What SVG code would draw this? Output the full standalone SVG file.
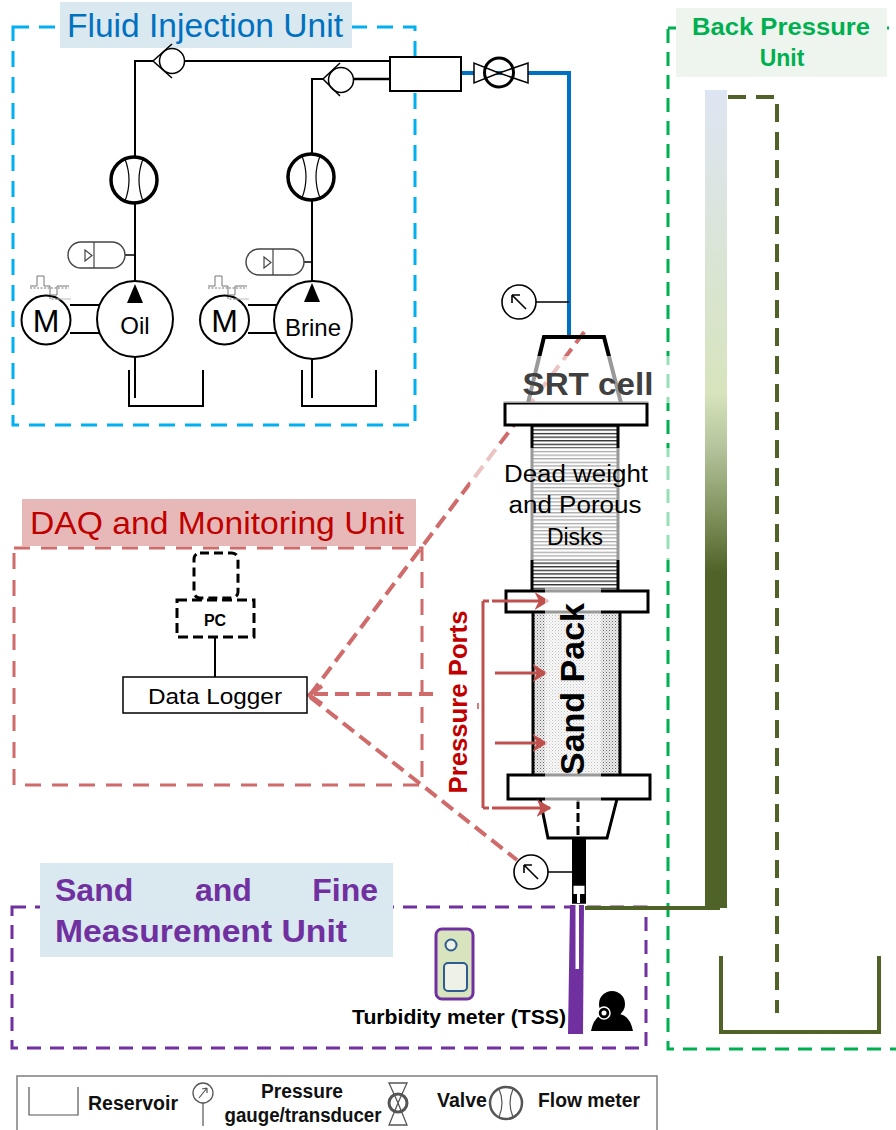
<svg xmlns="http://www.w3.org/2000/svg" width="896" height="1130" viewBox="0 0 896 1130">
  <defs>
    <style>
      .pipe{stroke:#000;stroke-width:2;fill:none}
      .thin{stroke:#000;stroke-width:1.5;fill:none}
      .fm{stroke:#000;stroke-width:3.5;fill:#fff}
      .fma{stroke:#000;stroke-width:1.2;fill:none}
      .txt{font-family:"Liberation Sans",Arial,sans-serif}
      .bold{font-weight:bold}
      .flange{fill:#fff;stroke:#000;stroke-width:3}
      .red{stroke:#C0504D;stroke-width:3;fill:none}
      .daq{stroke:#D06B6B;stroke-width:4;stroke-dasharray:14 7;fill:none}
      .haze{fill:#fff;fill-opacity:0.6}
    </style>
    <pattern id="hatch" patternUnits="userSpaceOnUse" width="10" height="3.6">
      <rect width="10" height="3.6" fill="#fff"/>
      <line x1="0" y1="1.6" x2="10" y2="1.6" stroke="#000" stroke-width="1.1"/>
    </pattern>
    <pattern id="stipple" patternUnits="userSpaceOnUse" width="3" height="3">
      <rect width="3" height="3" fill="#eeeeee"/>
      <rect x="0" y="0" width="1" height="1" fill="#666"/>
      <rect x="1.5" y="1.5" width="1" height="1" fill="#999"/>
    </pattern>
    <linearGradient id="bpcol" x1="0" y1="90" x2="0" y2="908" gradientUnits="userSpaceOnUse">
      <stop offset="0" stop-color="#DEE5F3"/>
      <stop offset="0.37" stop-color="#D7E4BD"/>
      <stop offset="0.44" stop-color="#B3C29A"/>
      <stop offset="0.52" stop-color="#7F925C"/>
      <stop offset="0.59" stop-color="#4F6228"/>
      <stop offset="1" stop-color="#4F6228"/>
    </linearGradient>
    <marker id="rarrow" markerWidth="6" markerHeight="6" refX="4.5" refY="3" orient="auto" markerUnits="strokeWidth">
      <path d="M0,0 L5,3 L0,6 L1.5,3 Z" fill="#C0504D"/>
    </marker>
    <g id="gauge">
      <circle r="17" fill="#fff" stroke="#000" stroke-width="1.6"/>
      <path d="M7,7 L-7,-7 M-7,-7 L-7,1 M-7,-7 L1,-7" stroke="#000" stroke-width="1.6" fill="none"/>
    </g>
    <g id="flowmeter">
      <circle r="23" class="fm"/>
      <path d="M-9,-21 Q-1,0 -9,21 M9,-21 Q1,0 9,21" class="fma"/>
    </g>
  </defs>

  <rect width="896" height="1130" fill="#fff"/>

  <!-- unit frames -->
  <g id="frames">
    <rect x="13" y="27" width="402" height="398" fill="none" stroke="#00B0F0" stroke-width="3" stroke-dasharray="16 10"/>
    <rect x="14" y="548" width="408" height="237" fill="none" stroke="#D06B6B" stroke-width="3" stroke-dasharray="16 11"/>
    <rect x="12" y="907" width="634" height="141" fill="none" stroke="#7030A0" stroke-width="3" stroke-dasharray="14 9"/>
    <rect x="668" y="28" width="240" height="1021" fill="none" stroke="#00B050" stroke-width="3" stroke-dasharray="14 9"/>
  </g>

  <!-- unit titles -->
  <g id="title-injection">
    <rect x="60" y="2" width="292" height="46" fill="#DAE8EF"/>
    <text x="67" y="37" class="txt" font-size="33" fill="#0070C0" textLength="276" lengthAdjust="spacingAndGlyphs">Fluid Injection Unit</text>
  </g>
  <g id="title-daq">
    <rect x="22" y="499" width="394" height="47" fill="#E6B9B8"/>
    <text x="30" y="534" class="txt" font-size="32" fill="#C00000" textLength="374" lengthAdjust="spacingAndGlyphs">DAQ and Monitoring Unit</text>
  </g>
  <g id="title-sand">
    <rect x="40" y="863" width="353" height="94" fill="#DAE8EF"/>
    <text x="55" y="901" class="txt bold" font-size="32" fill="#7030A0">Sand</text>
    <text x="195" y="901" class="txt bold" font-size="32" fill="#7030A0">and</text>
    <text x="378" y="901" class="txt bold" font-size="32" fill="#7030A0" text-anchor="end">Fine</text>
    <text x="55" y="942" class="txt bold" font-size="32" fill="#7030A0" textLength="292" lengthAdjust="spacingAndGlyphs">Measurement Unit</text>
  </g>
  <g id="title-backpressure">
    <rect x="676" y="8" width="211" height="69" fill="#EEF5EE"/>
    <text x="781" y="35" class="txt bold" font-size="23" fill="#00B050" text-anchor="middle" textLength="178" lengthAdjust="spacingAndGlyphs">Back Pressure</text>
    <text x="782" y="66" class="txt bold" font-size="23" fill="#00B050" text-anchor="middle">Unit</text>
  </g>

  <!-- connectors: pipes, signal lines -->
  <g id="connectors">
    <!-- oil line -->
    <path d="M135,283 V203 M135,157 V61 H153 M185,61 H390" class="pipe"/>
    <!-- brine line -->
    <path d="M312,281 V200 M312,154 V79 H323" class="pipe"/>
    <path d="M354,79 H390" stroke="#000" stroke-width="2.5"/>
    <!-- accumulator taps -->
    <path d="M125,255 H135 M304,262 H312" class="thin"/>
    <!-- motor couplings -->
    <path d="M70,305 H100 M70,333 H100 M248,305 H278 M248,333 H278" class="pipe"/>
    <!-- suction lines -->
    <path d="M135,357 V398 M312,359 V398" class="pipe"/>
    <!-- blue feed line -->
    <path d="M461,73 H569 V337" stroke="#0070C0" stroke-width="4" fill="none"/>
    <!-- gauge taps -->
    <path d="M536,302 H569 M548,872 H572" stroke="#000" stroke-width="1.5"/>
    <!-- PC to logger -->
    <path d="M215,638 V677" class="pipe"/>
    <!-- effluent to back pressure -->
    <path d="M585,908 H720" stroke="#4F6228" stroke-width="4"/>
    <!-- back pressure return -->
    <path d="M728,97 H777 V1013" stroke="#4F6228" stroke-width="4" fill="none" stroke-dasharray="18 10"/>
    <!-- DAQ signal lines -->
    <path d="M310,695 L585,331" class="daq"/>
    <path d="M433,694 H310" class="daq"/>
    <path d="M310,697 L517,860" class="daq"/>
    <path d="M322,686 L309,695 L322,704" stroke="#D06B6B" stroke-width="4" fill="none"/>
  </g>

  <!-- check valves -->
  <g id="check-valve-oil">
    <circle cx="172" cy="61" r="12.5" fill="#fff" stroke="#000" stroke-width="1.5"/>
    <path d="M172,44 L153,61 L172,78" class="thin"/>
  </g>
  <g id="check-valve-brine">
    <circle cx="341" cy="80" r="12.5" fill="#fff" stroke="#000" stroke-width="1.5"/>
    <path d="M340,63 L323,79 L340,96" class="thin"/>
  </g>
  <g id="mixer">
    <rect x="390" y="57" width="71" height="34" fill="#fff" stroke="#000" stroke-width="2"/>
  </g>
  <g id="valve">
    <path d="M474,63 L474,83 L499,73 Z M528,63 L528,83 L499,73 Z" fill="#fff" stroke="#000" stroke-width="1.5"/>
    <circle cx="499" cy="72.5" r="14.5" fill="none" stroke="#000" stroke-width="3"/>
  </g>

  <!-- flow meters -->
  <g id="flowmeter-oil"><use href="#flowmeter" x="134" y="180"/></g>
  <g id="flowmeter-brine"><use href="#flowmeter" x="311" y="177"/></g>

  <!-- accumulators -->
  <g id="accumulator-oil">
    <rect x="68" y="242" width="57" height="26" rx="13" fill="#fff" stroke="#444" stroke-width="1.4"/>
    <path d="M94,242 V268 M85,250 L92,255.5 L85,261 Z" stroke="#444" stroke-width="1.2" fill="none"/>
  </g>
  <g id="accumulator-brine">
    <rect x="246" y="249" width="58" height="26" rx="13" fill="#fff" stroke="#444" stroke-width="1.4"/>
    <path d="M273,249 V275 M264,257 L271,262.5 L264,268 Z" stroke="#444" stroke-width="1.2" fill="none"/>
  </g>

  <!-- pumps and motors -->
  <g id="pump-oil">
    <circle cx="135" cy="319" r="38" fill="#fff" stroke="#000" stroke-width="2"/>
    <path d="M135,284 L143,303 L127,303 Z" fill="#000"/>
    <text x="135" y="334" class="txt" font-size="24" text-anchor="middle">Oil</text>
  </g>
  <g id="motor-oil">
    <circle cx="46" cy="320" r="24.5" fill="#fff" stroke="#000" stroke-width="2"/>
    <text x="46" y="332" class="txt" font-size="32" text-anchor="middle">M</text>
    <path d="M30,286 H37 V276 H44 V286 H50 V295 H57 V286 H69" stroke="#777" stroke-width="1" fill="none"/>
    <path d="M30,288 H69 M50,297 V299 H57" stroke="#777" stroke-width="1" stroke-dasharray="2 1.5" fill="none"/>
    <path d="M57,299 H71" stroke="#bbb" stroke-width="1"/>
  </g>
  <g id="pump-brine">
    <circle cx="313" cy="320" r="39" fill="#fff" stroke="#000" stroke-width="2"/>
    <path d="M312,283 L320,302 L304,302 Z" fill="#000"/>
    <text x="313" y="336" class="txt" font-size="24" text-anchor="middle">Brine</text>
  </g>
  <g id="motor-brine">
    <circle cx="224.5" cy="320" r="24.5" fill="#fff" stroke="#000" stroke-width="2"/>
    <text x="224.5" y="332" class="txt" font-size="32" text-anchor="middle">M</text>
    <path d="M208,286 H215 V276 H222 V286 H228 V295 H235 V286 H247" stroke="#777" stroke-width="1" fill="none"/>
    <path d="M208,288 H247 M228,297 V299 H235" stroke="#777" stroke-width="1" stroke-dasharray="2 1.5" fill="none"/>
    <path d="M235,299 H249" stroke="#bbb" stroke-width="1"/>
  </g>

  <!-- reservoirs -->
  <g id="reservoir-oil"><path d="M129,370 V406 H203 V370" class="pipe"/></g>
  <g id="reservoir-brine"><path d="M302,370 V406 H376 V370" class="pipe"/></g>

  <!-- gauges -->
  <g id="gauge-inlet"><use href="#gauge" x="519" y="302"/></g>
  <g id="gauge-outlet"><use href="#gauge" x="531" y="872"/></g>

  <!-- SRT cell -->
  <g id="srt-cell">
    <path d="M528,403 L544,337 H604 L621,403" fill="none" stroke="#000" stroke-width="4" stroke-linejoin="miter"/>
    <rect x="532" y="425" width="86" height="166" fill="url(#hatch)"/>
    <path d="M532,425 V591 M618,425 V591" stroke="#000" stroke-width="3"/>
    <rect x="505" y="403" width="142" height="22" class="flange"/>
    <rect x="533" y="612" width="87" height="163" fill="url(#stipple)"/>
    <path d="M533,612 V775 M620,612 V775" stroke="#000" stroke-width="3"/>
    <rect x="506" y="591" width="142" height="21" class="flange"/>
    <rect x="508" y="775" width="142" height="24" class="flange"/>
    <path d="M540,799 L548,838 H607 L617,799" fill="none" stroke="#000" stroke-width="3"/>
    <path d="M578,800 V838" stroke="#000" stroke-width="3" stroke-dasharray="9 4"/>
    <!-- outlet -->
    <rect x="572" y="838" width="14" height="47" fill="#000"/>
    <rect x="572.75" y="885" width="12.5" height="18" fill="#fff" stroke="#000" stroke-width="1.5"/>
    <rect x="572" y="894" width="14" height="9" fill="#000"/>
    <rect x="577" y="894" width="3" height="9" fill="#fff"/>
  </g>

  <!-- pressure ports -->
  <g id="pressure-ports">
    <path d="M483,601 V808" class="red"/>
    <path d="M483,601 H497" class="red" stroke-dasharray="6 3"/>
    <path d="M497,601 H548" class="red" marker-end="url(#rarrow)"/>
    <path d="M495,673 H546" class="red" marker-end="url(#rarrow)"/>
    <path d="M495,743 H546" class="red" marker-end="url(#rarrow)"/>
    <path d="M483,808 H497" class="red" stroke-dasharray="6 3"/>
    <path d="M497,808 H550" class="red" marker-end="url(#rarrow)"/>
    <path d="M478,703 V709" stroke="#C0504D" stroke-width="1.5"/>
  </g>

  <!-- label hazes over the cell -->
  <rect x="497" y="356" width="180" height="47" class="haze"/>
  <rect x="470" y="448" width="210" height="112" class="haze"/>
  <rect x="545" y="588" width="56" height="214" class="haze"/>

  <g id="srt-labels">
    <text x="588" y="395" class="txt bold" font-size="32" fill="#404040" text-anchor="middle" textLength="131" lengthAdjust="spacingAndGlyphs">SRT cell</text>
    <text x="576" y="482" class="txt" font-size="23" text-anchor="middle" textLength="144" lengthAdjust="spacingAndGlyphs">Dead weight</text>
    <text x="575" y="513" class="txt" font-size="23" text-anchor="middle" textLength="133" lengthAdjust="spacingAndGlyphs">and Porous</text>
    <text x="575" y="545" class="txt" font-size="23" text-anchor="middle">Disks</text>
    <text transform="translate(572,689) rotate(-90)" y="12" class="txt bold" font-size="33" text-anchor="middle" textLength="172" lengthAdjust="spacingAndGlyphs">Sand Pack</text>
    <text transform="translate(458,702) rotate(-90)" y="9" class="txt bold" font-size="25" fill="#C00000" text-anchor="middle" textLength="183" lengthAdjust="spacingAndGlyphs">Pressure Ports</text>
  </g>

  <!-- back pressure column and tank -->
  <g id="back-pressure">
    <rect x="705" y="90" width="22" height="818" fill="url(#bpcol)"/>
    <path d="M721,956 V1032 H879 V956" stroke="#4F6228" stroke-width="4" fill="none"/>
  </g>

  <!-- DAQ -->
  <g id="pc">
    <rect x="194" y="553" width="44" height="45" rx="6" fill="none" stroke="#000" stroke-width="3" stroke-dasharray="9 5"/>
    <rect x="177" y="600" width="77" height="37" fill="#fff" stroke="#000" stroke-width="3" stroke-dasharray="10 5"/>
    <text x="215" y="626" class="txt bold" font-size="16" text-anchor="middle">PC</text>
  </g>
  <g id="data-logger">
    <rect x="123" y="677" width="184" height="36" fill="#fff" stroke="#000" stroke-width="1.5"/>
    <text x="215" y="704" class="txt" font-size="22" text-anchor="middle" textLength="134" lengthAdjust="spacingAndGlyphs">Data Logger</text>
  </g>

  <!-- sand and fines measurement -->
  <g id="effluent-tube">
    <path d="M570,905 H584 L583,1034 H568 Z" fill="#7030A0"/>
    <rect x="575.5" y="905" width="3.5" height="64" fill="#fff"/>
  </g>
  <g id="turbidity-meter">
    <rect x="436" y="929" width="37" height="70" rx="6" fill="#D7E4BD" stroke="#7030A0" stroke-width="3"/>
    <circle cx="451" cy="945" r="5.5" fill="#EEF2E6" stroke="#2F5C8F" stroke-width="2"/>
    <rect x="444" y="963" width="23" height="28" rx="4" fill="#EEF2E6" stroke="#2F5C8F" stroke-width="2"/>
    <text x="352" y="1024" class="txt bold" font-size="21" textLength="214" lengthAdjust="spacingAndGlyphs">Turbidity meter (TSS)</text>
  </g>
  <g id="camera">
    <path d="M591,1031 Q594,1016 604,1014 L620,1014 Q630,1016 633,1031 Z" fill="#000"/>
    <circle cx="612" cy="1004" r="13" fill="#000"/>
    <circle cx="604" cy="1013" r="6" fill="#000" stroke="#fff" stroke-width="1.5"/>
    <circle cx="604" cy="1013" r="2.5" fill="#fff"/>
  </g>

  <!-- legend -->
  <g id="legend">
    <rect x="17" y="1076" width="640" height="70" fill="#fff" stroke="#7F7F7F" stroke-width="1.5"/>
    <path d="M29,1087 V1115 H78 V1087" stroke="#555" stroke-width="1.2" fill="none"/>
    <text x="88" y="1110" class="txt bold" font-size="20" fill="#111" textLength="90" lengthAdjust="spacingAndGlyphs">Reservoir</text>
    <circle cx="203" cy="1093" r="10" fill="#fff" stroke="#555" stroke-width="1.3"/>
    <path d="M203,1103 V1126 M207,1088 L199,1098 M207,1088 L202,1089 M207,1088 L207,1093" stroke="#555" stroke-width="1.2" fill="none"/>
    <text x="302" y="1098" class="txt bold" font-size="20" fill="#111" text-anchor="middle" textLength="82" lengthAdjust="spacingAndGlyphs">Pressure</text>
    <text x="303" y="1122" class="txt bold" font-size="20" fill="#111" text-anchor="middle" textLength="157" lengthAdjust="spacingAndGlyphs">gauge/transducer</text>
    <path d="M389,1083 H407 L398,1103 Z M389,1125 H407 L398,1103 Z" fill="#fff" stroke="#555" stroke-width="1.3"/>
    <circle cx="398" cy="1103" r="9" fill="none" stroke="#555" stroke-width="3"/>
    <text x="437" y="1107" class="txt bold" font-size="20" fill="#111" textLength="50" lengthAdjust="spacingAndGlyphs">Valve</text>
    <circle cx="506" cy="1103" r="16" fill="#fff" stroke="#555" stroke-width="2.5"/>
    <path d="M499,1089 Q505,1103 499,1117 M513,1089 Q507,1103 513,1117" stroke="#555" stroke-width="1.2" fill="none"/>
    <text x="538" y="1107" class="txt bold" font-size="20" fill="#111" textLength="102" lengthAdjust="spacingAndGlyphs">Flow meter</text>
  </g>
</svg>
